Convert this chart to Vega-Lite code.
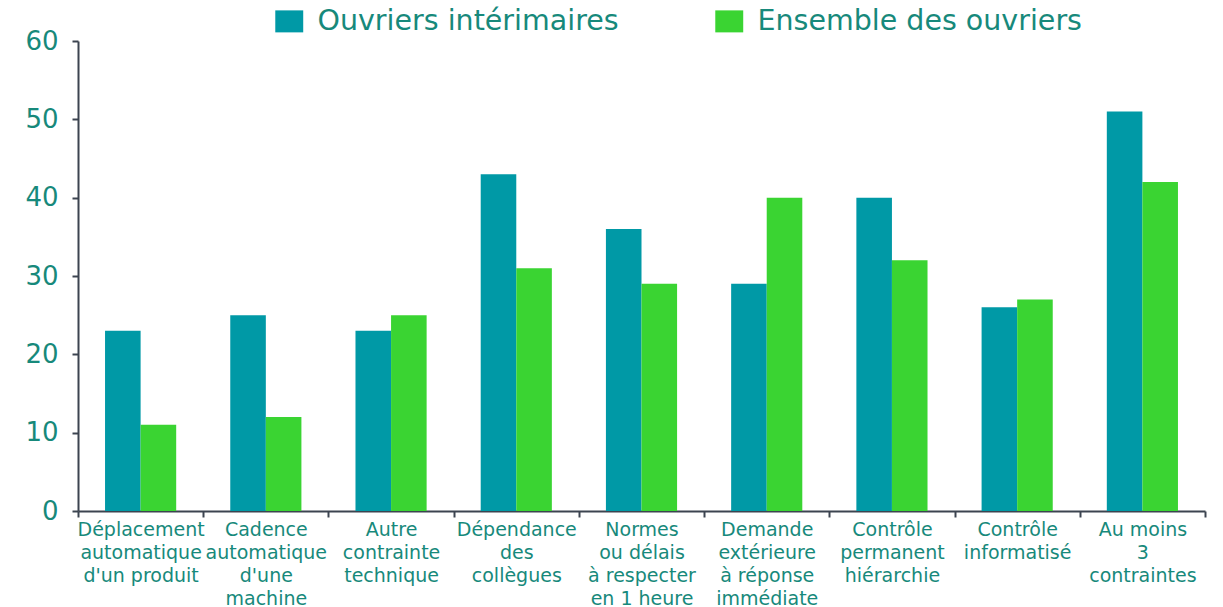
{
  "$schema": "https://vega.github.io/schema/vega-lite/v6.json",
  "autosize": "none",
  "width": 1127,
  "height": 470,
  "padding": {"left": 78, "top": 41, "right": 18, "bottom": 96},
  "background": "white",
  "config": {"view": {"stroke": null}},
  "data": {
    "values": [
      {"cat": "Déplacement|automatique|d'un produit", "serie": "Ouvriers intérimaires", "v": 23},
      {"cat": "Déplacement|automatique|d'un produit", "serie": "Ensemble des ouvriers", "v": 11},
      {"cat": "Cadence|automatique|d'une|machine", "serie": "Ouvriers intérimaires", "v": 25},
      {"cat": "Cadence|automatique|d'une|machine", "serie": "Ensemble des ouvriers", "v": 12},
      {"cat": "Autre|contrainte|technique", "serie": "Ouvriers intérimaires", "v": 23},
      {"cat": "Autre|contrainte|technique", "serie": "Ensemble des ouvriers", "v": 25},
      {"cat": "Dépendance|des|collègues", "serie": "Ouvriers intérimaires", "v": 43},
      {"cat": "Dépendance|des|collègues", "serie": "Ensemble des ouvriers", "v": 31},
      {"cat": "Normes|ou délais|à respecter|en 1 heure", "serie": "Ouvriers intérimaires", "v": 36},
      {"cat": "Normes|ou délais|à respecter|en 1 heure", "serie": "Ensemble des ouvriers", "v": 29},
      {"cat": "Demande|extérieure|à réponse|immédiate", "serie": "Ouvriers intérimaires", "v": 29},
      {"cat": "Demande|extérieure|à réponse|immédiate", "serie": "Ensemble des ouvriers", "v": 40},
      {"cat": "Contrôle|permanent|hiérarchie", "serie": "Ouvriers intérimaires", "v": 40},
      {"cat": "Contrôle|permanent|hiérarchie", "serie": "Ensemble des ouvriers", "v": 32},
      {"cat": "Contrôle|informatisé", "serie": "Ouvriers intérimaires", "v": 26},
      {"cat": "Contrôle|informatisé", "serie": "Ensemble des ouvriers", "v": 27},
      {"cat": "Au moins|3|contraintes", "serie": "Ouvriers intérimaires", "v": 51},
      {"cat": "Au moins|3|contraintes", "serie": "Ensemble des ouvriers", "v": 42}
    ]
  },
  "mark": {"type": "bar"},
  "encoding": {
    "x": {
      "field": "cat",
      "type": "nominal",
      "sort": null,
      "scale": {"paddingInner": 0, "paddingOuter": 0},
      "axis": {
        "title": null,
        "labelAngle": 0,
        "labelExpr": "split(datum.label, '|')",
        "labelFont": "DejaVu Sans",
        "labelFontSize": 19,
        "labelLineHeight": 23,
        "labelColor": "#17897b",
        "labelPadding": 3,
        "tickBand": "extent",
        "tickSize": 6,
        "tickWidth": 2,
        "tickColor": "#3c4450",
        "domainColor": "#3c4450",
        "domainWidth": 2,
        "labelLimit": 200
      }
    },
    "xOffset": {
      "field": "serie",
      "type": "nominal",
      "sort": ["Ouvriers intérimaires", "Ensemble des ouvriers"],
      "scale": {"paddingInner": 0, "paddingOuter": 0.76}
    },
    "y": {
      "field": "v",
      "type": "quantitative",
      "scale": {"domain": [0, 60], "nice": false},
      "axis": {
        "title": null,
        "values": [0, 10, 20, 30, 40, 50, 60],
        "grid": false,
        "labelFont": "DejaVu Sans",
        "labelFontSize": 26,
        "labelColor": "#17897b",
        "labelPadding": 14,
        "tickSize": 6,
        "tickWidth": 2,
        "tickColor": "#3c4450",
        "domainColor": "#3c4450",
        "domainWidth": 2
      }
    },
    "color": {
      "field": "serie",
      "type": "nominal",
      "sort": ["Ouvriers intérimaires", "Ensemble des ouvriers"],
      "scale": {"domain": ["Ouvriers intérimaires", "Ensemble des ouvriers"], "range": ["#0099a6", "#3ad432"]},
      "legend": {
        "title": null,
        "orient": "none",
        "direction": "horizontal",
        "legendX": 197,
        "legendY": -34,
        "symbolType": "M-1.27,-1H1.27V1H-1.27Z",
        "symbolSize": 484,
        "symbolStrokeWidth": 0,
        "labelFont": "DejaVu Sans",
        "labelFontSize": 28.5,
        "labelColor": "#17897b",
        "labelOffset": 14,
        "columnPadding": 96,
        "labelLimit": 500
      }
    }
  }
}
